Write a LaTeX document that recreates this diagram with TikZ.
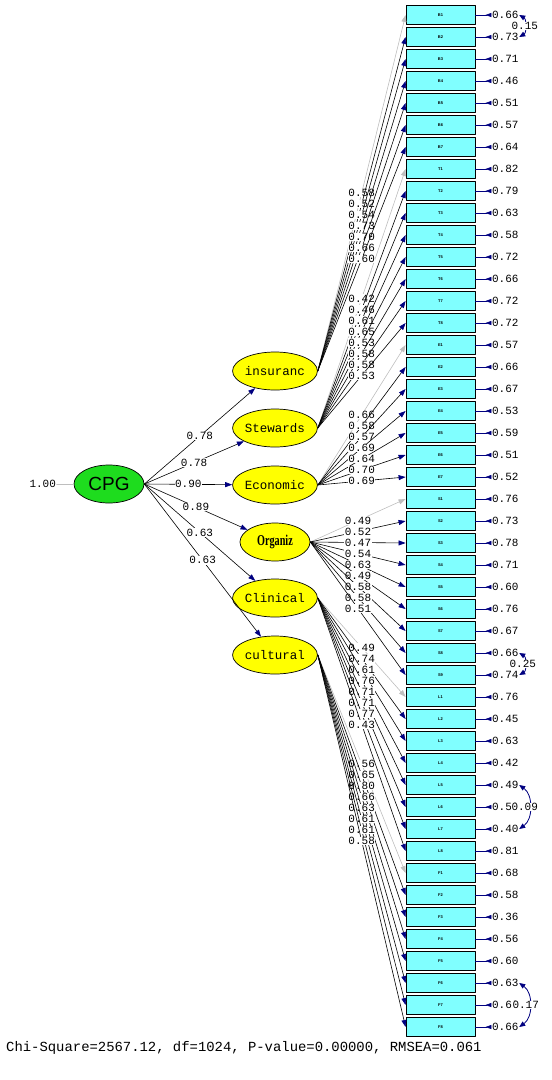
\documentclass[tikz,border=0pt]{standalone}
\usepackage{fontspec}
\usetikzlibrary{arrows.meta}
\usetikzlibrary{shapes.geometric}
\usetikzlibrary{positioning}
\newfontfamily\monofnt{Liberation Mono}
\newfontfamily\sansfnt{Liberation Sans}
\newfontfamily\seriffnt{Liberation Serif}
\definecolor{obscyan}{RGB}{128,255,255}
\definecolor{latyellow}{RGB}{255,255,0}
\definecolor{cpggreen}{RGB}{30,220,30}
\definecolor{pathnavy}{RGB}{0,0,128}
\definecolor{fixgray}{RGB}{190,190,190}

\begin{document}
\begin{tikzpicture}[line cap=round,line join=round,x=1pt,y=-1pt,
  obsbox/.style={draw,fill=obscyan,line width=0.8pt,minimum width=69pt,minimum height=19pt,inner sep=0pt,font=\sansfnt\bfseries\fontsize{4}{4}\selectfont},
  latent/.style={ellipse,draw,fill=latyellow,line width=0.7pt,minimum width=70pt,minimum height=38pt,inner sep=0pt,font=\monofnt\fontsize{12.5}{12.5}\selectfont},
  num/.style={inner sep=0.5pt,text=black,font=\monofnt\fontsize{11}{11}\selectfont},
  load/.style={line width=0.6pt,-{Triangle[length=7pt,width=5pt,color=pathnavy]}},
  fixload/.style={fixgray,line width=0.6pt,-{Triangle[length=7pt,width=5pt]}},
  errarr/.style={pathnavy,line width=0.8pt,-{Triangle[reversed,length=6pt,width=4pt]}},
  covarr/.style={pathnavy,line width=0.8pt,{Triangle[length=6pt,width=5pt]}-{Triangle[length=6pt,width=5pt]}}]
\useasboundingbox (0,0) rectangle (552,1080);

% indicators
\foreach \ind [count=\i from 0] in {B1,B2,B3,B4,B5,B6,B7,T1,T2,T3,T4,T5,T6,T7,T8,E1,E2,E3,E4,E5,E6,E7,S1,S2,S3,S4,S5,S6,S7,S8,S9,L1,L2,L3,L4,L5,L6,L7,L8,F1,F2,F3,F4,F5,F6,F7,F8}
  \node[obsbox] (\ind) at (440.5,15+22*\i) {\ind};

% error variances
\foreach \ind/\ev in {B1/0.66,B2/0.73,B3/0.71,B4/0.46,B5/0.51,B6/0.57,B7/0.64,
  T1/0.82,T2/0.79,T3/0.63,T4/0.58,T5/0.72,T6/0.66,T7/0.72,T8/0.72,
  E1/0.57,E2/0.66,E3/0.67,E4/0.53,E5/0.59,E6/0.51,E7/0.52,
  S1/0.76,S2/0.73,S3/0.78,S4/0.71,S5/0.60,S6/0.76,S7/0.67,S8/0.66,S9/0.74,
  L1/0.76,L2/0.45,L3/0.63,L4/0.42,L5/0.49,L6/0.50,L7/0.40,L8/0.81,
  F1/0.68,F2/0.58,F3/0.36,F4/0.56,F5/0.60,F6/0.63,F7/0.63,F8/0.66}
{
  \node[num,right=16pt of \ind] (e\ind) {\ev};
  \draw[errarr] (\ind.east) -- (e\ind);
}

% factors
\node[latent] (ins) at (275,371) {insuranc};
\node[latent] (stew) at (275,428) {Stewards};
\node[latent] (econ) at (275,485) {Economic};
\node[latent] (org) at (275,542) {\seriffnt\bfseries\scalebox{0.68}[1]{\fontsize{15}{15}\selectfont Organiz}};
\node[latent] (clin) at (275,598) {Clinical};
\node[latent] (cult) at (275,655) {cultural};
\node[latent,fill=cpggreen,font=\sansfnt\fontsize{19}{19}\selectfont] (cpg) at (109,484) {CPG};
\node[num,left=17pt of cpg] (cpgvar) {1.00};
\draw[fixgray,line width=0.6pt] (cpgvar) -- (cpg);

% second order
\foreach \lat/\val in {ins/0.78,stew/0.78,econ/0.90,org/0.89,clin/0.63,cult/0.63}
  \draw[load] (cpg.east) -- (\lat) node[num,midway,fill=white] {\val};

% fixed loadings
\foreach \lat/\ind/\val in {ins/B1/0.58,stew/T1/0.42,econ/E1/0.66,org/S1/0.49,clin/L1/0.49,cult/F1/0.56}
  \draw[fixload] (\lat.east) -- (\ind.west) node[num,midway,fill=white] {\val};

% free loadings
\foreach \lat/\ind/\val in {ins/B2/0.52,ins/B3/0.54,ins/B4/0.73,ins/B5/0.70,ins/B6/0.66,ins/B7/0.60,
  stew/T2/0.46,stew/T3/0.61,stew/T4/0.65,stew/T5/0.53,stew/T6/0.58,stew/T7/0.58,stew/T8/0.53,
  econ/E2/0.58,econ/E3/0.57,econ/E4/0.69,econ/E5/0.64,econ/E6/0.70,econ/E7/0.69,
  org/S2/0.52,org/S3/0.47,org/S4/0.54,org/S5/0.63,org/S6/0.49,org/S7/0.58,org/S8/0.58,org/S9/0.51,
  clin/L2/0.74,clin/L3/0.61,clin/L4/0.76,clin/L5/0.71,clin/L6/0.71,clin/L7/0.77,clin/L8/0.43,
  cult/F2/0.65,cult/F3/0.80,cult/F4/0.66,cult/F5/0.63,cult/F6/0.61,cult/F7/0.61,cult/F8/0.58}
  \draw[load] (\lat.east) -- (\ind.west) node[num,midway,fill=white] {\val};

% error covariances
\draw[covarr] (eB1.east) to[bend left=60] node[num,midway,fill=white] {0.15} (eB2.east);
\draw[covarr] (eS8.east) to[bend left=60] node[num,midway,fill=white,xshift=-2pt] {0.25} (eS9.east);
\draw[covarr] (eL5.east) to[bend left=55] node[num,midway,fill=white,xshift=-5pt] {0.09} (eL7.east);
\draw[covarr] (eF6.east) to[bend left=55] node[num,midway,fill=white,xshift=-4pt] {0.17} (eF8.east);

\node[anchor=west,inner sep=0pt,font=\monofnt\fontsize{13.9}{14}\selectfont] (fit) at (6,1048) {Chi-Square=2567.12, df=1024, P-value=0.00000, RMSEA=0.061};
\end{tikzpicture}
\end{document}
